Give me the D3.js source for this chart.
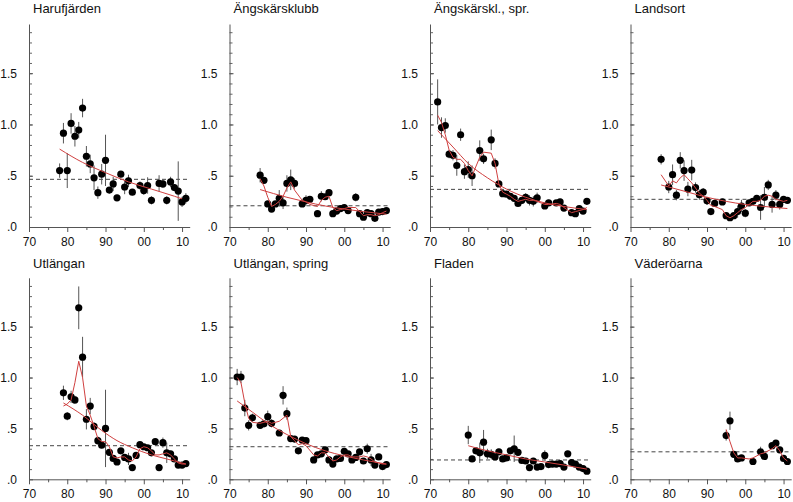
<!DOCTYPE html>
<html>
<head>
<meta charset="utf-8">
<script src="https://cdn.jsdelivr.net/npm/d3@7"></script>
<style>
  body { margin: 0; background: #fff; }
  svg { display: block; font-family: "Liberation Sans", Arial, sans-serif; }
</style>
</head>
<body>
<div id="chart"></div>
<script>
// station names, in reading order
const titles = ["Harufjärden", "Ängskärsklubb", "Ängskärskl., spr.", "Landsort",
                "Utlängan", "Utlängan, spring", "Fladen", "Väderöarna"];

const xTicks = [1970, 1980, 1990, 2000, 2010];
const xTickLabels = ["70", "80", "90", "00", "10"];
const yTicks = [0, 0.5, 1.0, 1.5];
const yTickLabels = [".0", ".5", "1.0", "1.5"];

// Harufjärden
const years1 = [1978,1979,1980,1981,1982,1983,1984,1985,1986,1987,1988,1989,1990,1991,1992,1993,1994,1995,1996,1997,1999,2000,2001,2002,2004,2005,2006,2007,2008,2009,2010,2011];
const values1 = [0.55,0.915,0.55,1.01,0.885,0.945,1.16,0.69,0.615,0.48,0.335,0.515,0.65,0.36,0.42,0.285,0.515,0.39,0.45,0.34,0.405,0.355,0.405,0.26,0.425,0.42,0.26,0.44,0.385,0.35,0.245,0.28];
const errors1 = [0.07,0.1,0.17,0.1,0.1,0.08,0.09,0.1,0.09,0.12,0.06,0.1,0.25,0.03,0.07,0.03,0.03,0.07,0.06,0.03,0.04,0.04,0.08,0.04,0.08,0.04,0.04,0.05,0.03,0.29,0.05,0.05];
const trend1 = [[1978,0.76],[1984,0.63],[1990,0.53],[1996,0.44],[2002,0.37],[2008,0.3],[2010,0.275]];
const smooth1 = [];
const mean1 = 0.465;

// Ängskärsklubb
const years2 = [1978,1979,1980,1981,1982,1983,1984,1985,1986,1987,1989,1990,1991,1993,1994,1995,1996,1997,1998,1999,2000,2001,2003,2004,2005,2006,2007,2008,2009,2010,2011];
const values2 = [0.505,0.455,0.225,0.175,0.225,0.28,0.235,0.425,0.46,0.425,0.225,0.26,0.27,0.13,0.3,0.295,0.335,0.13,0.155,0.18,0.19,0.16,0.29,0.13,0.095,0.14,0.13,0.085,0.145,0.15,0.16];
const errors2 = [0.07,0.02,0.03,0.02,0.02,0.08,0.06,0.08,0.1,0.05,0.02,0.05,0.03,0.02,0.05,0.03,0.03,0.02,0.02,0.02,0.03,0.02,0.04,0.02,0.02,0.02,0.02,0.02,0.02,0.02,0.02];
const trend2 = [[1978,0.365],[1985,0.29],[1990,0.245],[1995,0.205],[2000,0.175],[2005,0.15],[2011,0.125]];
const smooth2 = [[1978,0.47],[1979,0.4],[1980,0.29],[1981,0.2],[1982,0.22],[1983,0.25],[1984,0.3],[1985,0.38],[1986,0.44],[1987,0.36],[1989,0.26],[1990,0.245],[1991,0.22],[1993,0.2],[1994,0.26],[1995,0.29],[1996,0.3],[1997,0.19],[1998,0.16],[1999,0.17],[2000,0.18],[2001,0.19],[2003,0.19],[2004,0.15],[2005,0.11],[2006,0.12],[2007,0.12],[2008,0.11],[2009,0.12],[2010,0.14],[2011,0.155]];
const mean2 = 0.207;

// Ängskärskl., spr.
const years3 = [1972,1973,1974,1975,1976,1977,1978,1979,1980,1981,1983,1984,1986,1987,1988,1989,1990,1991,1992,1993,1994,1995,1996,1997,1998,2000,2001,2003,2004,2005,2007,2008,2009,2010,2011];
const values3 = [1.22,0.97,0.99,0.71,0.7,0.6,0.9,0.54,0.56,0.5,0.745,0.665,0.85,0.62,0.42,0.325,0.32,0.3,0.28,0.23,0.26,0.29,0.26,0.25,0.285,0.205,0.235,0.235,0.245,0.185,0.14,0.13,0.18,0.155,0.25];
const errors3 = [0.22,0.1,0.07,0.04,0.05,0.1,0.06,0.07,0.08,0.1,0.1,0.05,0.1,0.05,0.03,0.02,0.02,0.02,0.02,0.02,0.03,0.04,0.05,0.05,0.05,0.02,0.03,0.02,0.03,0.02,0.02,0.02,0.02,0.02,0.02];
const trend3 = [[1972,0.94],[1976,0.78],[1980,0.62],[1985,0.48],[1990,0.37],[1995,0.29],[2000,0.235],[2005,0.2],[2011,0.17]];
const smooth3 = [[1972,1.09],[1973,1.02],[1974,0.9],[1975,0.75],[1976,0.68],[1977,0.66],[1978,0.66],[1979,0.62],[1980,0.55],[1981,0.5],[1983,0.68],[1984,0.73],[1986,0.72],[1987,0.62],[1988,0.42],[1989,0.34],[1990,0.32],[1991,0.3],[1992,0.27],[1993,0.25],[1994,0.26],[1995,0.27],[1996,0.26],[1997,0.26],[1998,0.25],[2000,0.22],[2001,0.22],[2003,0.23],[2004,0.22],[2005,0.19],[2007,0.14],[2008,0.15],[2009,0.16],[2010,0.17],[2011,0.19]];
const mean3 = 0.367;

// Landsort
const years4 = [1978,1980,1981,1982,1983,1984,1985,1986,1987,1988,1989,1990,1991,1992,1994,1995,1996,1997,1998,1999,2000,2001,2002,2003,2004,2005,2006,2007,2008,2009,2010,2011];
const values4 = [0.66,0.39,0.51,0.31,0.65,0.55,0.37,0.555,0.385,0.315,0.34,0.255,0.15,0.23,0.245,0.11,0.09,0.11,0.15,0.205,0.135,0.235,0.25,0.28,0.19,0.29,0.41,0.22,0.31,0.22,0.27,0.26];
const errors4 = [0.05,0.06,0.1,0.05,0.08,0.1,0.07,0.1,0.05,0.05,0.04,0.04,0.03,0.02,0.02,0.02,0.02,0.02,0.06,0.06,0.04,0.03,0.03,0.03,0.12,0.1,0.05,0.08,0.05,0.05,0.03,0.02];
const trend4 = [[1978,0.41],[1985,0.34],[1990,0.29],[1995,0.25],[2000,0.22],[2005,0.2],[2011,0.18]];
const smooth4 = [[1978,0.51],[1980,0.4],[1981,0.45],[1982,0.43],[1983,0.48],[1984,0.51],[1985,0.47],[1986,0.43],[1987,0.38],[1988,0.33],[1989,0.3],[1990,0.26],[1991,0.21],[1992,0.2],[1994,0.17],[1995,0.11],[1996,0.09],[1997,0.11],[1998,0.14],[1999,0.17],[2000,0.19],[2001,0.22],[2002,0.25],[2003,0.25],[2004,0.26],[2005,0.3],[2006,0.31],[2007,0.3],[2008,0.27],[2009,0.26],[2010,0.25],[2011,0.26]];
const mean4 = 0.27;

// Utlängan
const years5 = [1979,1980,1981,1982,1983,1984,1985,1986,1987,1988,1989,1990,1991,1992,1993,1994,1995,1996,1997,1998,1999,2000,2001,2002,2003,2004,2005,2006,2007,2008,2009,2010,2011];
const values5 = [0.85,0.62,0.81,0.78,1.685,1.2,0.59,0.72,0.52,0.38,0.335,0.5,0.265,0.205,0.17,0.28,0.215,0.2,0.115,0.235,0.34,0.32,0.31,0.26,0.37,0.115,0.36,0.26,0.25,0.2,0.14,0.14,0.155];
const errors5 = [0.07,0.04,0.06,0.04,0.21,0.2,0.1,0.08,0.04,0.04,0.03,0.38,0.03,0.03,0.02,0.02,0.02,0.06,0.02,0.03,0.02,0.03,0.02,0.02,0.02,0.02,0.05,0.1,0.03,0.02,0.02,0.02,0.02];
const trend5 = [[1979,0.75],[1984,0.63],[1989,0.48],[1993,0.38],[1997,0.31],[2002,0.24],[2006,0.2],[2011,0.15]];
const smooth5 = [[1979,0.72],[1980,0.74],[1981,0.78],[1982,0.95],[1983,1.16],[1984,1.0],[1985,0.72],[1986,0.63],[1987,0.52],[1988,0.4],[1989,0.37],[1990,0.37],[1991,0.32],[1992,0.22],[1993,0.21],[1994,0.22],[1995,0.22],[1996,0.19],[1997,0.18],[1998,0.22],[1999,0.3],[2000,0.32],[2001,0.31],[2002,0.28],[2003,0.24],[2004,0.24],[2005,0.25],[2006,0.26],[2007,0.24],[2008,0.2],[2009,0.16],[2010,0.15],[2011,0.15]];
const mean5 = 0.33;

// Utlängan, spring
const years6 = [1972,1973,1974,1975,1976,1978,1979,1980,1981,1983,1984,1985,1986,1987,1988,1989,1990,1992,1993,1994,1995,1996,1997,1998,1999,2000,2001,2002,2003,2004,2005,2006,2007,2008,2009,2010,2011];
const values6 = [1.005,1.005,0.7,0.53,0.605,0.53,0.545,0.615,0.55,0.455,0.825,0.645,0.4,0.395,0.28,0.385,0.38,0.19,0.24,0.25,0.29,0.19,0.15,0.2,0.205,0.275,0.25,0.19,0.215,0.27,0.18,0.3,0.19,0.14,0.22,0.125,0.145];
const errors6 = [0.08,0.06,0.08,0.05,0.04,0.02,0.02,0.06,0.04,0.02,0.09,0.06,0.03,0.02,0.02,0.02,0.02,0.02,0.02,0.02,0.03,0.02,0.02,0.02,0.02,0.02,0.02,0.02,0.02,0.02,0.02,0.05,0.06,0.02,0.02,0.02,0.02];
const trend6 = [[1972,0.77],[1976,0.66],[1980,0.55],[1985,0.44],[1990,0.35],[1995,0.28],[2000,0.23],[2005,0.19],[2011,0.15]];
const smooth6 = [[1972,1.0],[1973,0.95],[1974,0.75],[1975,0.6],[1976,0.56],[1978,0.55],[1979,0.56],[1980,0.57],[1981,0.55],[1983,0.57],[1984,0.6],[1985,0.63],[1986,0.42],[1987,0.38],[1988,0.34],[1989,0.35],[1990,0.33],[1992,0.24],[1993,0.23],[1994,0.26],[1995,0.26],[1996,0.22],[1997,0.18],[1998,0.19],[1999,0.22],[2000,0.24],[2001,0.24],[2002,0.22],[2003,0.22],[2004,0.22],[2005,0.23],[2006,0.22],[2007,0.2],[2008,0.17],[2009,0.16],[2010,0.15],[2011,0.15]];
const mean6 = 0.32;

// Fladen
const years7 = [1980,1981,1982,1983,1984,1985,1986,1987,1988,1989,1990,1991,1992,1993,1994,1995,1996,1997,1998,1999,2000,2001,2002,2003,2004,2005,2006,2007,2008,2009,2010,2011];
const values7 = [0.435,0.2,0.28,0.26,0.365,0.25,0.245,0.22,0.27,0.2,0.21,0.28,0.3,0.265,0.185,0.18,0.115,0.18,0.12,0.125,0.235,0.145,0.15,0.15,0.155,0.12,0.25,0.165,0.15,0.12,0.105,0.08];
const errors7 = [0.09,0.03,0.03,0.1,0.12,0.05,0.05,0.03,0.03,0.03,0.03,0.03,0.13,0.03,0.02,0.02,0.02,0.03,0.02,0.03,0.05,0.02,0.02,0.02,0.02,0.02,0.03,0.02,0.02,0.02,0.02,0.02];
const trend7 = [[1980,0.33],[1985,0.28],[1990,0.24],[1995,0.2],[2000,0.17],[2005,0.14],[2011,0.1]];
const smooth7 = [];
const mean7 = 0.19;

// Väderöarna
const years8 = [1995,1996,1997,1998,1999,2002,2004,2005,2007,2008,2009,2010,2011];
const values8 = [0.43,0.575,0.245,0.2,0.21,0.175,0.27,0.225,0.33,0.355,0.29,0.205,0.175];
const errors8 = [0.05,0.09,0.02,0.02,0.02,0.02,0.05,0.02,0.02,0.03,0.02,0.02,0.02];
const trend8 = [];
const smooth8 = [[1995,0.49],[1996,0.37],[1997,0.26],[1998,0.21],[1999,0.21],[2001,0.2],[2002,0.21],[2004,0.25],[2005,0.26],[2007,0.3],[2008,0.33],[2009,0.28],[2010,0.21],[2011,0.18]];
const mean8 = 0.27;

const panels = [
  { years: years1, values: values1, errors: errors1, trend: trend1, smooth: smooth1, mean: mean1 },
  { years: years2, values: values2, errors: errors2, trend: trend2, smooth: smooth2, mean: mean2 },
  { years: years3, values: values3, errors: errors3, trend: trend3, smooth: smooth3, mean: mean3 },
  { years: years4, values: values4, errors: errors4, trend: trend4, smooth: smooth4, mean: mean4 },
  { years: years5, values: values5, errors: errors5, trend: trend5, smooth: smooth5, mean: mean5 },
  { years: years6, values: values6, errors: errors6, trend: trend6, smooth: smooth6, mean: mean6 },
  { years: years7, values: values7, errors: errors7, trend: trend7, smooth: smooth7, mean: mean7 },
  { years: years8, values: values8, errors: errors8, trend: trend8, smooth: smooth8, mean: mean8 }
];

const width = 793, height = 502;
const colX = [29, 229.5, 430, 630.5];
const rowZero = [227, 479.3];
const rowHeight = [203, 201.5];
const plotWidth = 160.7;
const yMax = 1.98;

const svg = d3.select('#chart').append('svg')
  .attr('width', width)
  .attr('height', height);

panels.forEach((p, i) => {
  const col = i % 4, row = Math.floor(i / 4);
  const h = rowHeight[row];
  const g = svg.append('g')
    .attr('transform', 'translate(' + [colX[col], rowZero[row] - h] + ')');

  const x = d3.scaleLinear().domain([1970, 2012]).range([0, plotWidth]);
  const y = d3.scaleLinear().domain([0, yMax]).range([h, 0]);

  // title
  g.append('text')
    .attr('x', 4)
    .attr('y', row === 0 ? 12.7 - (rowZero[0] - h) : 268.3 - (rowZero[1] - h))
    .attr('font-size', 13)
    .attr('fill', '#111')
    .text(titles[i]);

  // y axis: minor ticks inward, labelled majors
  const yMinor = d3.range(1, 20).map(k => k / 10);
  g.append('g')
    .call(d3.axisLeft(y).tickValues(yMinor).tickSize(-3).tickFormat(''))
    .call(a => a.select('.domain').remove())
    .call(a => a.selectAll('line').attr('stroke', '#666'));
  g.append('g')
    .call(d3.axisLeft(y).tickValues(yTicks).tickSizeInner(-4).tickSizeOuter(0).tickPadding(12)
      .tickFormat((d, k) => yTickLabels[k]))
    .call(a => a.select('.domain').attr('stroke', '#555'))
    .call(a => a.selectAll('line').attr('stroke', '#555'))
    .call(a => a.selectAll('text').attr('font-size', 12).attr('fill', '#111')
      .attr('font-family', '"Liberation Sans", Arial, sans-serif'));

  // x axis: outward ticks
  const xMinor = [1975, 1985, 1995, 2005];
  g.append('g')
    .attr('transform', 'translate(0,' + h + ')')
    .call(d3.axisBottom(x).tickValues(xMinor).tickSize(3).tickFormat(''))
    .call(a => a.select('.domain').remove())
    .call(a => a.selectAll('line').attr('stroke', '#555'));
  g.append('g')
    .attr('transform', 'translate(0,' + h + ')')
    .call(d3.axisBottom(x).tickValues(xTicks).tickSizeInner(5).tickSizeOuter(0).tickPadding(5)
      .tickFormat((d, k) => xTickLabels[k]))
    .call(a => a.select('.domain').attr('stroke', '#555'))
    .call(a => a.selectAll('line').attr('stroke', '#555'))
    .call(a => a.selectAll('text').attr('font-size', 12).attr('fill', '#111')
      .attr('font-family', '"Liberation Sans", Arial, sans-serif'));

  // long-term mean
  g.append('line')
    .attr('x1', x(1970)).attr('x2', x(2012))
    .attr('y1', y(p.mean)).attr('y2', y(p.mean))
    .attr('stroke', '#444')
    .attr('stroke-width', 1)
    .attr('stroke-dasharray', '4,3');

  const pts = p.years.map((yr, k) => ({ yr: yr, v: p.values[k], e: p.errors[k] }));

  // error bars
  g.selectAll('.err').data(pts).enter().append('line')
    .attr('class', 'err')
    .attr('x1', d => x(d.yr)).attr('x2', d => x(d.yr))
    .attr('y1', d => y(d.v + d.e)).attr('y2', d => y(Math.max(0, d.v - d.e)))
    .attr('stroke', '#555')
    .attr('stroke-width', 1);

  // points
  g.selectAll('.pt').data(pts).enter().append('circle')
    .attr('class', 'pt')
    .attr('cx', d => x(d.yr))
    .attr('cy', d => y(d.v))
    .attr('r', 3.6)
    .attr('fill', '#000');

  // smoothed and trend lines on top
  if (p.smooth.length) {
    g.append('path')
      .attr('d', d3.line().x(d => x(d[0])).y(d => y(d[1]))(p.smooth))
      .attr('fill', 'none')
      .attr('stroke', '#d04040')
      .attr('stroke-width', 1);
  }
  if (p.trend.length) {
    g.append('path')
      .attr('d', d3.line().curve(d3.curveMonotoneX).x(d => x(d[0])).y(d => y(d[1]))(p.trend))
      .attr('fill', 'none')
      .attr('stroke', '#d04040')
      .attr('stroke-width', 1);
  }
});
</script>
</body>
</html>
